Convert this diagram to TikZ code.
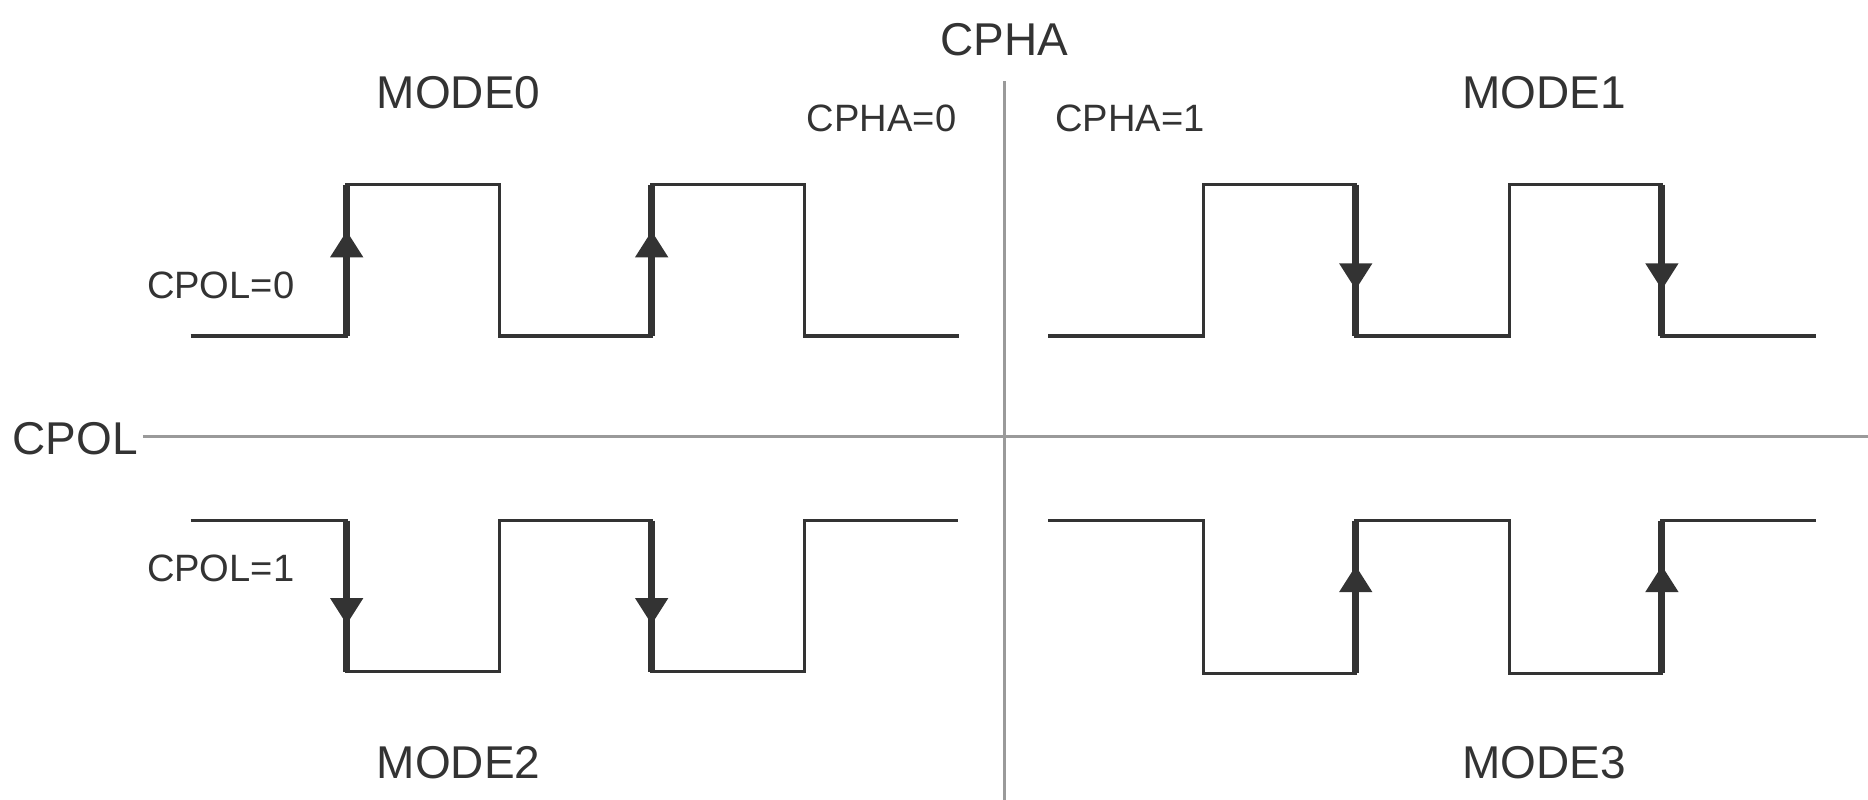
\documentclass[tikz,border=0pt]{standalone}
\usepackage{fontspec}
\setmainfont{Liberation Sans}
\definecolor{ink}{HTML}{333333}
\definecolor{rule}{HTML}{9A9A9A}
\tikzset{
    sig/.style={draw=ink, line width=1.3pt},
    edgeline/.style={draw=ink, line width=3pt},
    divider/.style={draw=rule, line width=1.3pt},
    biglabel/.style={text=ink, inner sep=0pt, font=\fontsize{19.3}{22}\selectfont},
    smalllabel/.style={text=ink, inner sep=0pt, font=\fontsize{16}{19}\selectfont},
    tip/.style={fill=ink} }
\newcommand{\uptip}[2]{\fill[tip] (#1-14,#2) -- (#1+14,#2) -- (#1,#2-22) -- cycle;}
\newcommand{\downtip}[2]{\fill[tip] (#1-14,#2) -- (#1+14,#2) -- (#1,#2+22) -- cycle;}

\begin{document}
\begin{tikzpicture}[x=0.5pt, y=-0.5pt]
			\useasboundingbox (0,0) rectangle (1568,671.4);
			% ---- axes
			\coordinate (vtop) at (843,68);
			\coordinate (vbot) at (843,671.4);
			\coordinate (hleft) at (120,366.5);
			\coordinate (hright) at (1568,366.5);
			\draw[divider] (vtop) -- (vbot);
			\draw[divider] (hleft) -- (hright);
			% ---- labels
			\node[biglabel] (cpha) at (843,33) {CPHA};
			\node[biglabel, anchor=west] (cpol) at (10,368.5) {CPOL};
			\node[biglabel] (mode0) at (385,78) {MODE0};
			\node[biglabel] (mode1) at (1296,78) {MODE1};
			\node[biglabel] (mode2) at (385,640) {MODE2};
			\node[biglabel] (mode3) at (1296,640) {MODE3};
			\node[smalllabel] (cpha0) at (740,99) {CPHA=0};
			\node[smalllabel] (cpha1) at (948.5,99) {CPHA=1};
			\node[smalllabel, anchor=west] (cpol0) at (123,239.5) {CPOL=0};
			\node[smalllabel, anchor=west] (cpol1) at (123,477) {CPOL=1};
			% ---- mode 0
			\draw[sig] (160,282) -| (291,155) -| (419,282) -| (547,155) -| (675,282) -- (805,282);
			\foreach \x in {291,547} {
				\draw[edgeline] (\x,282) -- (\x,155);
				\uptip{\x}{216}
			}
			% ---- mode 1
			\draw[sig] (880,282) -| (1010,155) -| (1138,282) -| (1267,155) -| (1395,282) -- (1524,282);
			\foreach \x in {1138,1395} {
				\draw[edgeline] (\x,155) -- (\x,282);
				\downtip{\x}{221}
			}
			% ---- mode 2
			\draw[sig] (160,437) -| (291,564) -| (419,437) -| (547,564) -| (675,437) -- (804,437);
			\foreach \x in {291,547} {
				\draw[edgeline] (\x,437) -- (\x,564);
				\downtip{\x}{502}
			}
			% ---- mode 3
			\draw[sig] (880,437) -| (1010,565) -| (1138,437) -| (1267,565) -| (1395,437) -- (1524,437);
			\foreach \x in {1138,1395} {
				\draw[edgeline] (\x,565) -- (\x,437);
				\uptip{\x}{497}
			}
		\end{tikzpicture}
\end{document}
